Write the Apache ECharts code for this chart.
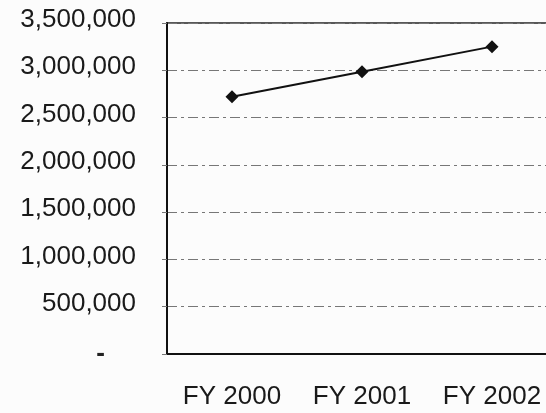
<!DOCTYPE html>
<html>
<head>
<meta charset="utf-8">
<script src="https://cdn.jsdelivr.net/npm/echarts@6/dist/echarts.min.js"></script>
<style>html,body{margin:0;padding:0;background:#fcfcfc;overflow:hidden;}#c{width:557px;height:413px;}</style>
</head>
<body>
<div id="c"></div>
<script>
var categories = ['FY 2000', 'FY 2001', 'FY 2002'];
var values = [2720000, 2985000, 3250000];
var yMin = 0, yMax = 3500000, yInterval = 500000;

var chart = echarts.init(document.getElementById('c'));
chart.setOption({
  backgroundColor: '#fcfcfc',
  animation: false,
  grid: { left: 167, right: 0, top: 23, bottom: 59, show: true, borderColor: '#222', borderWidth: 1.5, backgroundColor: 'transparent' },
  xAxis: {
    type: 'category', data: categories, boundaryGap: true,
    axisLine: { show: true, lineStyle: { color: '#111', width: 2 } },
    axisTick: { show: false },
    axisLabel: { color: '#1a1a1a', fontFamily: 'Liberation Sans, Arial, sans-serif', fontSize: 26, margin: 30 },
    splitLine: { show: false }
  },
  yAxis: {
    type: 'value', min: yMin, max: yMax, interval: yInterval,
    axisLine: { show: true, lineStyle: { color: '#111', width: 2 } },
    axisTick: { show: true, length: 5, lineStyle: { color: '#777' } },
    axisLabel: {
      color: '#1a1a1a', fontFamily: 'Liberation Sans, Arial, sans-serif', fontSize: 26, margin: 31,
      padding: [0, 0, 6, 0],
      formatter: function (v) { return v === 0 ? '{z|-}' : v.toLocaleString('en-US'); },
      rich: { z: { fontSize: 26, fontWeight: 'bold', color: '#222', padding: [6, 31, 0, 0] } }
    },
    splitLine: { show: true, lineStyle: { color: '#777', type: [10, 4, 3, 4], width: 1 } }
  },
  series: [{
    type: 'line', data: values,
    symbol: 'diamond', symbolSize: 13,
    lineStyle: { color: '#111', width: 2 },
    itemStyle: { color: '#111' }
  }]
});
</script>
</body>
</html>
